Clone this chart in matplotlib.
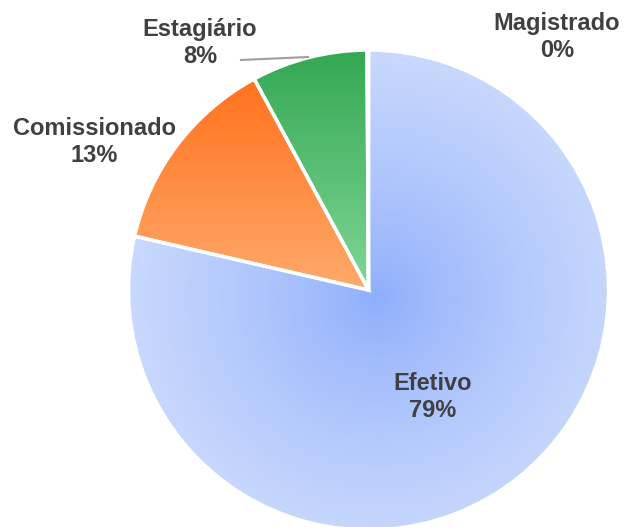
import numpy as np
import matplotlib.pyplot as plt
from matplotlib.colors import LinearSegmentedColormap

labels = ['Efetivo', 'Comissionado', 'Estagiário', 'Magistrado']
values = [78.6, 13.5, 7.8, 0.1]
pct_text = ['79%', '13%', '8%', '0%']

# cores do gradiente (claro / escuro)
grad_colors = {
    'Efetivo': ('#c7d7fd', '#8eaefb'),
    'Comissionado': ('#ffa96c', '#ff6b12'),
    'Estagiário': ('#80d696', '#34a853'),
    'Magistrado': ('#ffd666', '#fbbc04'),
}

W, H = 626, 527
cx, cy, R = 368.5, H - 290, 240

fig = plt.figure(figsize=(W / 100, H / 100), dpi=100)
ax = fig.add_axes([0, 0, 1, 1])
ax.axis('off')

wedges, _ = ax.pie(values, startangle=90, counterclock=False, center=(cx, cy),
                   radius=R, wedgeprops=dict(edgecolor='white', linewidth=2.5))

ext = [cx - R, cx + R, cy - R, cy + R]
n = 400
xx, yy = np.meshgrid(np.linspace(ext[0], ext[1], n), np.linspace(ext[2], ext[3], n))

for w, lab in zip(wedges, labels):
    light, dark = grad_colors[lab]
    cmap = LinearSegmentedColormap.from_list(lab, [dark, light])
    if lab == 'Efetivo':
        z = np.hypot(xx - cx - 8, yy - cy + 8) / R
        z = np.clip(z, 0, 1) ** 0.8
    else:
        # gradiente vertical: escuro em cima, claro embaixo
        top = cy + R
        z = np.clip((top - yy) / R, 0, 1)
    w.set_facecolor('none')
    im = ax.imshow(z, extent=ext, origin='lower', cmap=cmap, vmin=0, vmax=1,
                   interpolation='bilinear', zorder=0.5)
    im.set_clip_path(w)
    w.set_zorder(1)

txt = dict(fontsize=17, fontweight='bold', color='#404040', ha='center',
           va='center', family=['Liberation Sans', 'DejaVu Sans'], linespacing=1.22)

ax.text(433, H - 397, labels[0] + '\n' + pct_text[0], **txt)
ax.text(94, H - 142, labels[1] + '\n' + pct_text[1], **txt)
ax.text(200, H - 43, labels[2] + '\n' + pct_text[2], **txt)
ax.text(557, H - 37, labels[3] + '\n' + pct_text[3], **txt)

ax.plot([241, 308], [H - 60, H - 57], color='#9e9e9e', linewidth=1.5)

ax.set_xlim(0, W)
ax.set_ylim(0, H)
ax.set_aspect('equal')

fig.savefig('out.png', dpi=100)
